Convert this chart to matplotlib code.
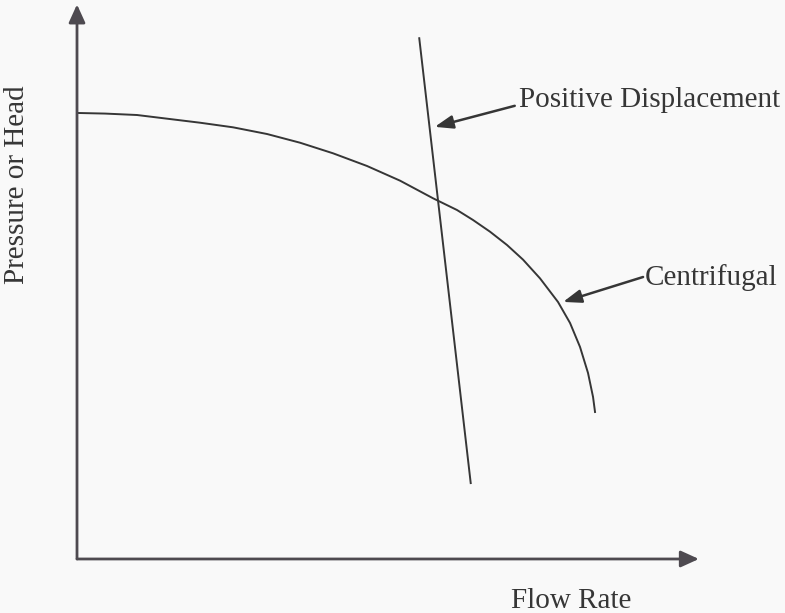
import numpy as np
import matplotlib
matplotlib.use("Agg")
import matplotlib.pyplot as plt

# pump curves, flow on x (0-100), pressure/head on y (0-100), arbitrary units
cf_flow = [0, 4.5, 9.68, 19.84, 25.16, 30.65, 35.97, 41.29, 46.77, 52.10, 57.42,
           61.29, 63.87, 66.61, 69.35, 71.94, 74.68, 77.58, 79.52, 81.13, 82.42,
           83.23, 83.55]
cf_head = [80.51, 80.4, 80.14, 78.75, 77.92, 76.71, 75.14, 73.23, 70.94, 68.29, 65.11,
           62.99, 61.19, 59.08, 56.68, 54.03, 50.65, 46.39, 42.60, 38.27, 33.57,
           29.24, 26.53]

pd_flow = [55.2, 63.5]
pd_head = [94.0, 13.7]

labels = ["Positive Displacement", "Centrifugal"]
label_pos = [(71.3, 81.6), (91.6, 49.5)]
arrow_tips = [(57.7, 78.0), (78.4, 46.4)]
arrow_tails = [(70.6, 81.8), (91.3, 50.9)]

bg = "#f9f9f9"
ink = "#363636"
axis_ink = "#4e4a50"

plt.rcParams["font.family"] = ["Liberation Serif", "DejaVu Serif"]

fig = plt.figure(figsize=(7.85, 6.13), dpi=100, facecolor=bg)
ax = fig.add_axes([0, 0, 1, 1], facecolor=bg)
ax.set_xlim(-12.42, 114.19)
ax.set_ylim(-9.75, 100.9)
ax.axis("off")

# axes with arrow heads
for tip in [(100.3, 0), (0, 100.1)]:
    ax.annotate("", xy=tip, xytext=(0, 0),
                arrowprops=dict(arrowstyle="-|>,head_length=0.55,head_width=0.25",
                                mutation_scale=20, lw=2.0, color=axis_ink,
                                shrinkA=0, shrinkB=0))

# curves
ax.plot(cf_flow, cf_head, color=ink, lw=1.4, solid_joinstyle="round")
ax.plot(pd_flow, pd_head, color=ink, lw=1.4)

# labels with pointer arrows
for text, pos, tip, tail in zip(labels, label_pos, arrow_tips, arrow_tails):
    ax.text(pos[0], pos[1], text, fontsize=21, color=ink, ha="left", va="baseline")
    ax.annotate("", xy=tip, xytext=tail,
                arrowprops=dict(arrowstyle="-|>,head_length=0.55,head_width=0.2",
                                mutation_scale=20, lw=1.8, color=ink,
                                shrinkA=0, shrinkB=0))

ax.text(79.7, -8.8, "Flow Rate", fontsize=21, color=ink, ha="center", va="baseline")
ax.text(-9.7, 67.5, "Pressure or Head", fontsize=21, color=ink,
        ha="center", va="center", rotation=90)

fig.savefig("out.png", dpi=100, facecolor=bg)
